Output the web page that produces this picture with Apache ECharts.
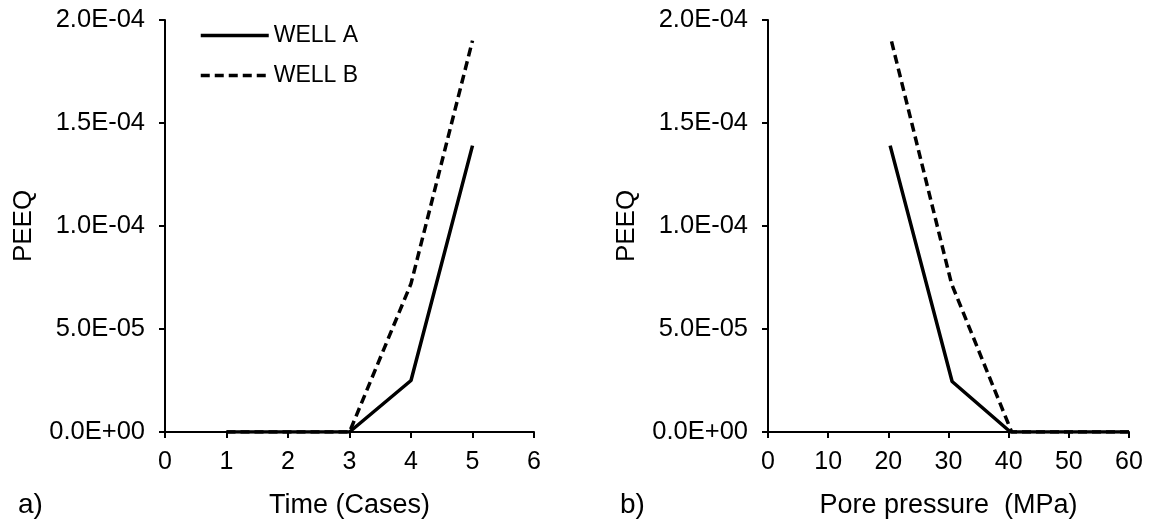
<!DOCTYPE html>
<html>
<head>
<meta charset="utf-8">
<script src="https://cdn.jsdelivr.net/npm/echarts@6/dist/echarts.min.js"></script>
<style>
html,body{margin:0;padding:0;background:#fff;}
#chart{width:1152px;height:525px;}
</style>
</head>
<body>
<div id="chart"></div>
<script>
// ---- data ----
var seriesNames = ['WELL A', 'WELL B'];
var casesX = [1, 2, 3, 4, 5];
var wellA_time = [0, 0, 0, 2.5e-5, 1.39e-4];
var wellB_time = [0, 0, 0, 7.2e-5, 1.9e-4];
var pressureA = [60, 50, 40.3, 30.6, 20.3];
var pressureB = [60, 50, 40.5, 30.5, 20.5];
var wellA_press = [0, 0, 0, 2.45e-5, 1.39e-4];
var wellB_press = [0, 0, 0, 7.2e-5, 1.9e-4];
var yTickLabels = ['0.0E+00', '5.0E-05', '1.0E-04', '1.5E-04', '2.0E-04'];
var xTitleLeft = 'Time (Cases)';
var xTitleRight = 'Pore pressure  (MPa)';
var yTitle = 'PEEQ';

function pairs(xs, ys) { return xs.map(function (x, i) { return [x, ys[i]]; }); }

var FONT = '"Liberation Sans", Arial, sans-serif';
var TXT = '#000';

function xAxisCfg(idx, max, interval, name) {
  return {
    type: 'value', gridIndex: idx, min: 0, max: max, interval: interval,
    name: name, nameLocation: 'middle', nameGap: 60,
    nameTextStyle: { fontFamily: FONT, fontSize: 27, color: TXT },
    axisLine: { show: true, onZero: false, lineStyle: { color: '#000', width: 2 } },
    axisTick: { show: true, length: 6, lineStyle: { color: '#000', width: 2 } },
    axisLabel: { fontFamily: FONT, fontSize: 25, color: TXT, margin: 18 },
    splitLine: { show: false }
  };
}
function yAxisCfg(idx) {
  return {
    type: 'value', gridIndex: idx, min: 0, max: 2e-4, interval: 5e-5,
    name: yTitle, nameLocation: 'middle', nameGap: 128,
    nameTextStyle: { fontFamily: FONT, fontSize: 26, color: TXT },
    axisLine: { show: true, lineStyle: { color: '#000', width: 2 } },
    axisTick: { show: true, length: 6, lineStyle: { color: '#000', width: 2 } },
    axisLabel: {
      fontFamily: FONT, fontSize: 25.5, color: TXT, margin: 20,
      formatter: function (v, i) { return yTickLabels[i]; }
    },
    splitLine: { show: false }
  };
}
function lineSeries(name, xi, data, dashed) {
  return {
    name: name, type: 'line', xAxisIndex: xi, yAxisIndex: xi,
    data: data, symbol: 'none', showSymbol: false, silent: true,
    lineStyle: { color: '#000', width: 3.5, type: dashed ? [9, 5] : 'solid' },
    itemStyle: { color: '#000' }
  };
}

var chart = echarts.init(document.getElementById('chart'), null, { renderer: 'canvas' });
chart.setOption({
  animation: false,
  backgroundColor: '#fff',
  grid: [
    { left: 165, right: 618, top: 20, bottom: 93 },
    { left: 768, right: 23, top: 20, bottom: 93 }
  ],
  legend: {
    data: seriesNames, orient: 'vertical', left: 194, top: 19,
    itemWidth: 68, itemHeight: 14, itemGap: 17, selectedMode: false,
    itemStyle: { color: 'rgba(0,0,0,0)', borderWidth: 0 },
    lineStyle: { width: 3.5 },
    textStyle: { fontFamily: FONT, fontSize: 23, color: TXT, padding: [0, 0, 0, 0] }
  },
  xAxis: [xAxisCfg(0, 6, 1, xTitleLeft), xAxisCfg(1, 60, 10, xTitleRight)],
  yAxis: [yAxisCfg(0), yAxisCfg(1)],
  graphic: [
    { type: 'text', left: 18, top: 491, style: { text: 'a)', font: '28px ' + FONT, fill: TXT } },
    { type: 'text', left: 620, top: 491, style: { text: 'b)', font: '28px ' + FONT, fill: TXT } }
  ],
  series: [
    lineSeries(seriesNames[0], 0, pairs(casesX, wellA_time), false),
    lineSeries(seriesNames[1], 0, pairs(casesX, wellB_time), true),
    lineSeries(seriesNames[0], 1, pairs(pressureA, wellA_press), false),
    lineSeries(seriesNames[1], 1, pairs(pressureB, wellB_press), true)
  ]
});
</script>
</body>
</html>
